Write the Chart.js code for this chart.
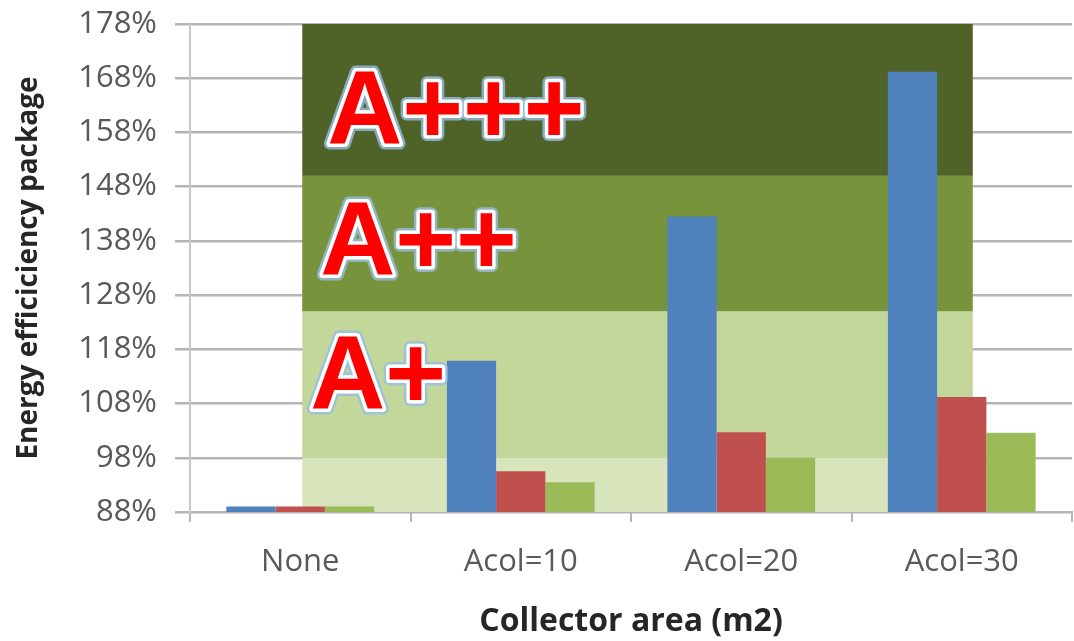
<!DOCTYPE html>
<html>
<head>
<meta charset="utf-8">
<script src="https://cdn.jsdelivr.net/npm/chart.js@4"></script>
<style>
  html, body { margin: 0; padding: 0; background: #fff; }
  #wrap { width: 1074px; height: 641px; }
</style>
</head>
<body>
<div id="wrap"><canvas id="effChart"></canvas></div>
<script>
const categories = ['None', 'Acol=10', 'Acol=20', 'Acol=30'];
const seriesBlue = [89, 115.9, 142.5, 169.2];
const seriesRed = [89, 95.5, 102.7, 109.2];
const seriesGreen = [89, 93.5, 98, 102.6];

// energy label bands (in %)
const bandLabels = ['', 'A+', 'A++', 'A+++'];
const bandFrom = [88, 98, 125, 150];
const bandTo = [98, 125, 150, 178];
const bandColors = ['#d8e4bc', '#c4d79b', '#77933c', '#4f6228'];

const FONT = '"Open Sans", "Liberation Sans", sans-serif';

// bands drawn over the grid, under the bars
const bandPlugin = {
    id: 'bands',
    beforeDatasetsDraw(chart) {
        const { ctx, scales: { x, y } } = chart;
        const catW = x.getPixelForValue(1) - x.getPixelForValue(0);
        const left = x.getPixelForValue(0) + 2;
        const right = x.getPixelForValue(3) + catW * 0.05;
        ctx.save();
        bandFrom.forEach((from, i) => {
            const top = y.getPixelForValue(bandTo[i]);
            const bottom = y.getPixelForValue(from);
            ctx.fillStyle = bandColors[i];
            ctx.fillRect(left, top, right - left, bottom - top);
        });
        ctx.restore();
    },
    afterDatasetsDraw(chart) {
        const { ctx, scales: { x, y } } = chart;
        const left = x.getPixelForValue(0);
        const shift = [0, 10, 20, 27];  // labels step slightly to the right
        const lift = [0, -5, 2, 14];
        ctx.save();
        ctx.font = 'bold 104px "Liberation Sans", Arial, sans-serif';
        ctx.textBaseline = 'middle';
        ctx.lineJoin = 'round';
        bandLabels.forEach((txt, i) => {
            if (!txt) return;
            const cy = (y.getPixelForValue(bandFrom[i]) + y.getPixelForValue(bandTo[i])) / 2 + lift[i];
            const cx = left + shift[i];
            ctx.strokeStyle = 'rgba(150,190,225,0.8)';
            ctx.lineWidth = 12;
            ctx.strokeText(txt, cx, cy);
            ctx.strokeStyle = '#ffffff';
            ctx.lineWidth = 7;
            ctx.strokeText(txt, cx, cy);
            ctx.fillStyle = '#ff0000';
            ctx.fillText(txt, cx, cy);
        });
        ctx.restore();
    }
};

const ctx = document.getElementById('effChart');
new Chart(ctx, {
    type: 'bar',
    data: {
        labels: categories,
        datasets: [
            { label: 'Series 1', data: seriesBlue, backgroundColor: '#4f81bd' },
            { label: 'Series 2', data: seriesRed, backgroundColor: '#c0504d' },
            { label: 'Series 3', data: seriesGreen, backgroundColor: '#9bbb59' }
        ]
    },
    options: {
        responsive: true,
        maintainAspectRatio: false,
        animation: false,
        categoryPercentage: 0.67,
        barPercentage: 1.0,
        layout: { padding: { top: 24, right: 2, left: 0, bottom: 0 } },
        plugins: { legend: { display: false }, tooltip: { enabled: false } },
        scales: {
            x: {
                afterFit(scale) { scale.height = 129; },
                grid: { drawOnChartArea: false, offset: true, tickLength: 10, color: '#b5b5b5', lineWidth: 2 },
                border: { color: '#b5b5b5', width: 2 },
                ticks: { color: '#595959', padding: 22, font: { family: FONT, size: 31 } },
                title: {
                    display: true, text: 'Collector area (m2)', color: '#262626',
                    padding: { top: 4, bottom: 0 }, font: { family: FONT, size: 32, weight: 'bold' }
                }
            },
            y: {
                min: 88, max: 178,
                afterFit(scale) {
                    scale.width = 190;
                    scale.paddingTop = 0;
                    scale.paddingBottom = 0;
                },
                grid: { color: '#b5b5b5', lineWidth: 2.5, tickLength: 15 },
                border: { color: '#c8c8c8', width: 2 },
                ticks: {
                    stepSize: 10, color: '#595959', padding: 18,
                    font: { family: FONT, size: 31 },
                    callback: v => v + '%'
                },
                title: {
                    display: true, text: 'Energy efficiciency package', color: '#262626',
                    padding: { top: 12, bottom: 0 }, font: { family: FONT, size: 28, weight: 'bold' }
                }
            }
        }
    },
    plugins: [bandPlugin]
});
</script>
</body>
</html>
